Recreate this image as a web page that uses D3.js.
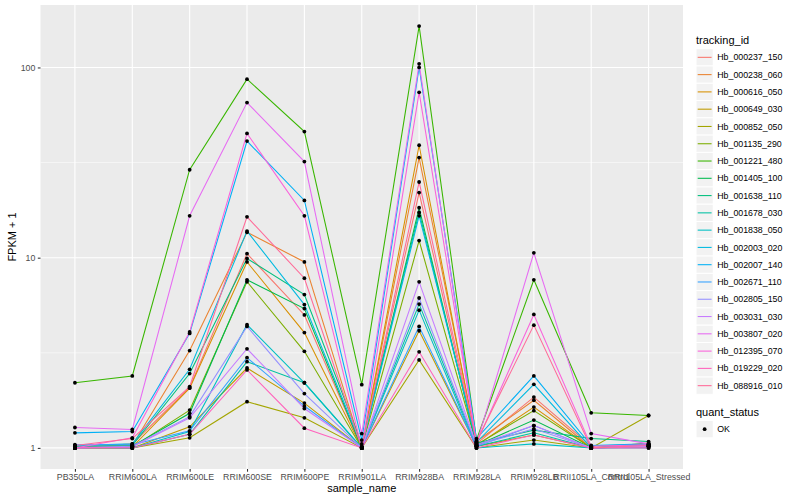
<!DOCTYPE html>
<html>
<head>
<meta charset="utf-8">
<script src="https://cdn.jsdelivr.net/npm/d3@7"></script>
<style>
body{margin:0;background:#fff;}
text{font-family:"Liberation Sans",Arial,sans-serif;}
</style>
</head>
<body>
<svg id="chart" width="800" height="500"></svg>
<script>
// categories on x
var samples = ["PB350LA","RRIM600LA","RRIM600LE","RRIM600SE","RRIM600PE","RRIM901LA","RRIM928BA","RRIM928LA","RRIM928LB","RRII105LA_Control","RRII105LA_Stressed"];

var trackingIds = ["Hb_000237_150","Hb_000238_060","Hb_000616_050","Hb_000649_030","Hb_000852_050","Hb_001135_290","Hb_001221_480","Hb_001405_100","Hb_001638_110","Hb_001678_030","Hb_001838_050","Hb_002003_020","Hb_002007_140","Hb_002671_110","Hb_002805_150","Hb_003031_030","Hb_003807_020","Hb_012395_070","Hb_019229_020","Hb_088916_010"];

// FPKM + 1, one row per tracking id (same order as samples)
var hb000237 = [1.00,1.05,2.08,10.5,5.00,1.00,22.0,1.05,1.85,1.02,1.05];
var hb000238 = [1.02,1.03,3.25,13.6,9.50,1.00,33.6,1.08,1.78,1.00,1.06];
var hb000616 = [1.00,1.01,2.06,9.50,4.04,1.00,39.0,1.03,1.64,1.00,1.04];
var hb000649 = [1.00,1.00,1.29,2.63,1.72,1.00,4.13,1.02,1.17,1.00,1.02];
var hb000852 = [1.00,1.00,1.13,1.75,1.44,1.00,2.90,1.00,1.10,1.00,1.48];
var hb001135 = [1.00,1.01,1.58,7.47,3.22,1.00,12.3,1.04,1.57,1.00,1.03];
var hb001221 = [2.20,2.39,29.0,86.8,46.0,2.15,165,1.10,7.65,1.53,1.48];
var hb001405 = [1.00,1.02,1.52,7.65,5.40,1.00,18.3,1.03,1.40,1.00,1.02];
var hb001638 = [1.02,1.03,2.46,9.90,6.40,1.05,17.3,1.06,1.24,1.12,1.08];
var hb001678 = [1.00,1.00,1.18,2.84,2.20,1.00,5.70,1.02,1.20,1.00,1.01];
var hb001838 = [1.01,1.00,1.22,4.44,2.20,1.00,5.30,1.00,1.05,1.00,1.00];
var hb002003 = [1.03,1.05,2.59,13.8,5.67,1.02,16.6,1.07,2.16,1.00,1.04];
var hb002007 = [1.20,1.22,4.00,41.0,20.0,1.10,100,1.12,2.39,1.03,1.05];
var hb002671 = [1.04,1.04,1.23,2.98,1.66,1.00,4.35,1.02,1.31,1.00,1.02];
var hb002805 = [1.00,1.02,1.46,4.35,1.93,1.00,6.14,1.03,1.26,1.00,1.03];
var hb003031 = [1.00,1.01,1.44,3.32,1.61,1.00,7.47,1.04,1.31,1.00,1.02];
var hb003807 = [1.28,1.25,16.6,65.4,32.0,1.19,104.5,1.05,10.6,1.19,1.05];
var hb012395 = [1.00,1.13,4.07,45.0,16.6,1.00,74.0,1.06,5.03,1.02,1.04];
var hb019229 = [1.00,1.00,1.18,2.57,1.27,1.00,3.20,1.00,1.17,1.00,1.00];
var hb088916 = [1.03,1.12,2.10,16.4,7.80,1.00,25.0,1.08,4.42,1.00,1.03];

var seriesValues = [hb000237,hb000238,hb000616,hb000649,hb000852,hb001135,hb001221,hb001405,hb001638,hb001678,hb001838,hb002003,hb002007,hb002671,hb002805,hb003031,hb003807,hb012395,hb019229,hb088916];

var yTicks = [1,10,100];
var yMinor = [Math.sqrt(10), Math.sqrt(1000)];

// ggplot hue palette (polar LUV, c=100, l=65)
function hclLuv(h,c,l){
  var Xn=95.047,Yn=100,Zn=108.883;
  var un=4*Xn/(Xn+15*Yn+3*Zn), vn=9*Yn/(Xn+15*Yn+3*Zn);
  var hr=h*Math.PI/180, U=c*Math.cos(hr), V=c*Math.sin(hr);
  var Y = l>8 ? Yn*Math.pow((l+16)/116,3) : Yn*l/903.3;
  var up=U/(13*l)+un, vp=V/(13*l)+vn;
  var X=9*Y*up/(4*vp), Z=-X/3-5*Y+3*Y/vp;
  X/=100;Y/=100;Z/=100;
  var r= 3.240479*X-1.537150*Y-0.498535*Z;
  var g=-0.969256*X+1.875992*Y+0.041556*Z;
  var b= 0.055648*X-0.204043*Y+1.057311*Z;
  function gam(t){t = t<=0.0031308 ? 12.92*t : 1.055*Math.pow(t,1/2.4)-0.055; return Math.round(255*Math.max(0,Math.min(1,t)));}
  return d3.rgb(gam(r),gam(g),gam(b)).formatHex();
}
var n=trackingIds.length;
var colors = trackingIds.map(function(d,i){return hclLuv(15+360*i/n,100,65);});

var svg=d3.select("#chart");
var pLeft=40.5, pRight=683, pTop=5, pBottom=469;

var x=d3.scalePoint().domain(samples).range([pLeft,pRight]).padding(0.6);
var maxLog=Math.log10(d3.max(seriesValues,function(s){return d3.max(s);}));
var expand=maxLog*0.05;
var y=d3.scaleLog().domain([Math.pow(10,-expand),Math.pow(10,maxLog+expand)]).range([pBottom,pTop]);

// panel
svg.append("rect").attr("x",pLeft).attr("y",pTop).attr("width",pRight-pLeft).attr("height",pBottom-pTop).attr("fill","#EBEBEB");

svg.selectAll(".minor").data(yMinor).enter().append("line")
  .attr("x1",pLeft).attr("x2",pRight)
  .attr("y1",function(d){return y(d);}).attr("y2",function(d){return y(d);})
  .attr("stroke","#fff").attr("stroke-width",0.55);
svg.selectAll(".majorY").data(yTicks).enter().append("line")
  .attr("x1",pLeft).attr("x2",pRight)
  .attr("y1",function(d){return y(d);}).attr("y2",function(d){return y(d);})
  .attr("stroke","#fff").attr("stroke-width",1.1);
svg.selectAll(".majorX").data(samples).enter().append("line")
  .attr("y1",pTop).attr("y2",pBottom)
  .attr("x1",function(d){return x(d);}).attr("x2",function(d){return x(d);})
  .attr("stroke","#fff").attr("stroke-width",1.1);

// lines
var line=d3.line().x(function(d,i){return x(samples[i]);}).y(function(d){return y(d);});
seriesValues.forEach(function(vals,i){
  svg.append("path").attr("d",line(vals)).attr("fill","none")
    .attr("stroke",colors[i]).attr("stroke-width",1.07);
});
// points
seriesValues.forEach(function(vals){
  svg.selectAll(null).data(vals).enter().append("circle")
    .attr("cx",function(d,i){return x(samples[i]);})
    .attr("cy",function(d){return y(d);})
    .attr("r",1.9).attr("fill","#000");
});

// axes
var yAxis=svg.append("g").attr("transform","translate("+pLeft+",0)")
  .call(d3.axisLeft(y).tickValues(yTicks).tickFormat(d3.format("d")).tickSize(2.7).tickPadding(2.5));
var xAxis=svg.append("g").attr("transform","translate(0,"+pBottom+")")
  .call(d3.axisBottom(x).tickSize(2.7).tickPadding(2.5));
[yAxis,xAxis].forEach(function(a){
  a.select(".domain").remove();
  a.selectAll(".tick line").attr("stroke","#333333").attr("stroke-width",1.07);
  a.selectAll(".tick text").attr("fill","#4D4D4D").style("font-size","8.8px");
});

svg.append("text").attr("x",(pLeft+pRight)/2).attr("y",492).attr("text-anchor","middle")
  .style("font-size","11px").attr("fill","#000").text("sample_name");
svg.append("text").attr("transform","translate(16,"+((pTop+pBottom)/2)+") rotate(-90)")
  .attr("text-anchor","middle").style("font-size","11px").attr("fill","#000").text("FPKM + 1");

// legend
var lgX=696, keyH=17.28, keyTop=48.7;
svg.append("text").attr("x",lgX).attr("y",44).style("font-size","11px").text("tracking_id");
var lg=svg.selectAll(".lg").data(trackingIds).enter().append("g")
  .attr("transform",function(d,i){return "translate("+lgX+","+(keyTop+i*keyH)+")";});
lg.append("rect").attr("width",keyH).attr("height",keyH).attr("fill","#F2F2F2").attr("stroke","#fff").attr("stroke-width",1);
lg.append("line").attr("x1",1.7).attr("x2",keyH-1.7).attr("y1",keyH/2).attr("y2",keyH/2)
  .attr("stroke",function(d,i){return colors[i];}).attr("stroke-width",1.07);
lg.append("text").attr("x",keyH+4).attr("y",keyH/2+3.1).style("font-size","8.8px").text(function(d){return d;});

svg.append("text").attr("x",lgX).attr("y",416).style("font-size","11px").text("quant_status");
var okY=420.5;
svg.append("rect").attr("x",lgX).attr("y",okY).attr("width",keyH).attr("height",keyH).attr("fill","#F2F2F2").attr("stroke","#fff");
svg.append("circle").attr("cx",lgX+keyH/2).attr("cy",okY+keyH/2).attr("r",1.9).attr("fill","#000");
svg.append("text").attr("x",lgX+keyH+4).attr("y",okY+keyH/2+3.1).style("font-size","8.8px").text("OK");
</script>
</body>
</html>
